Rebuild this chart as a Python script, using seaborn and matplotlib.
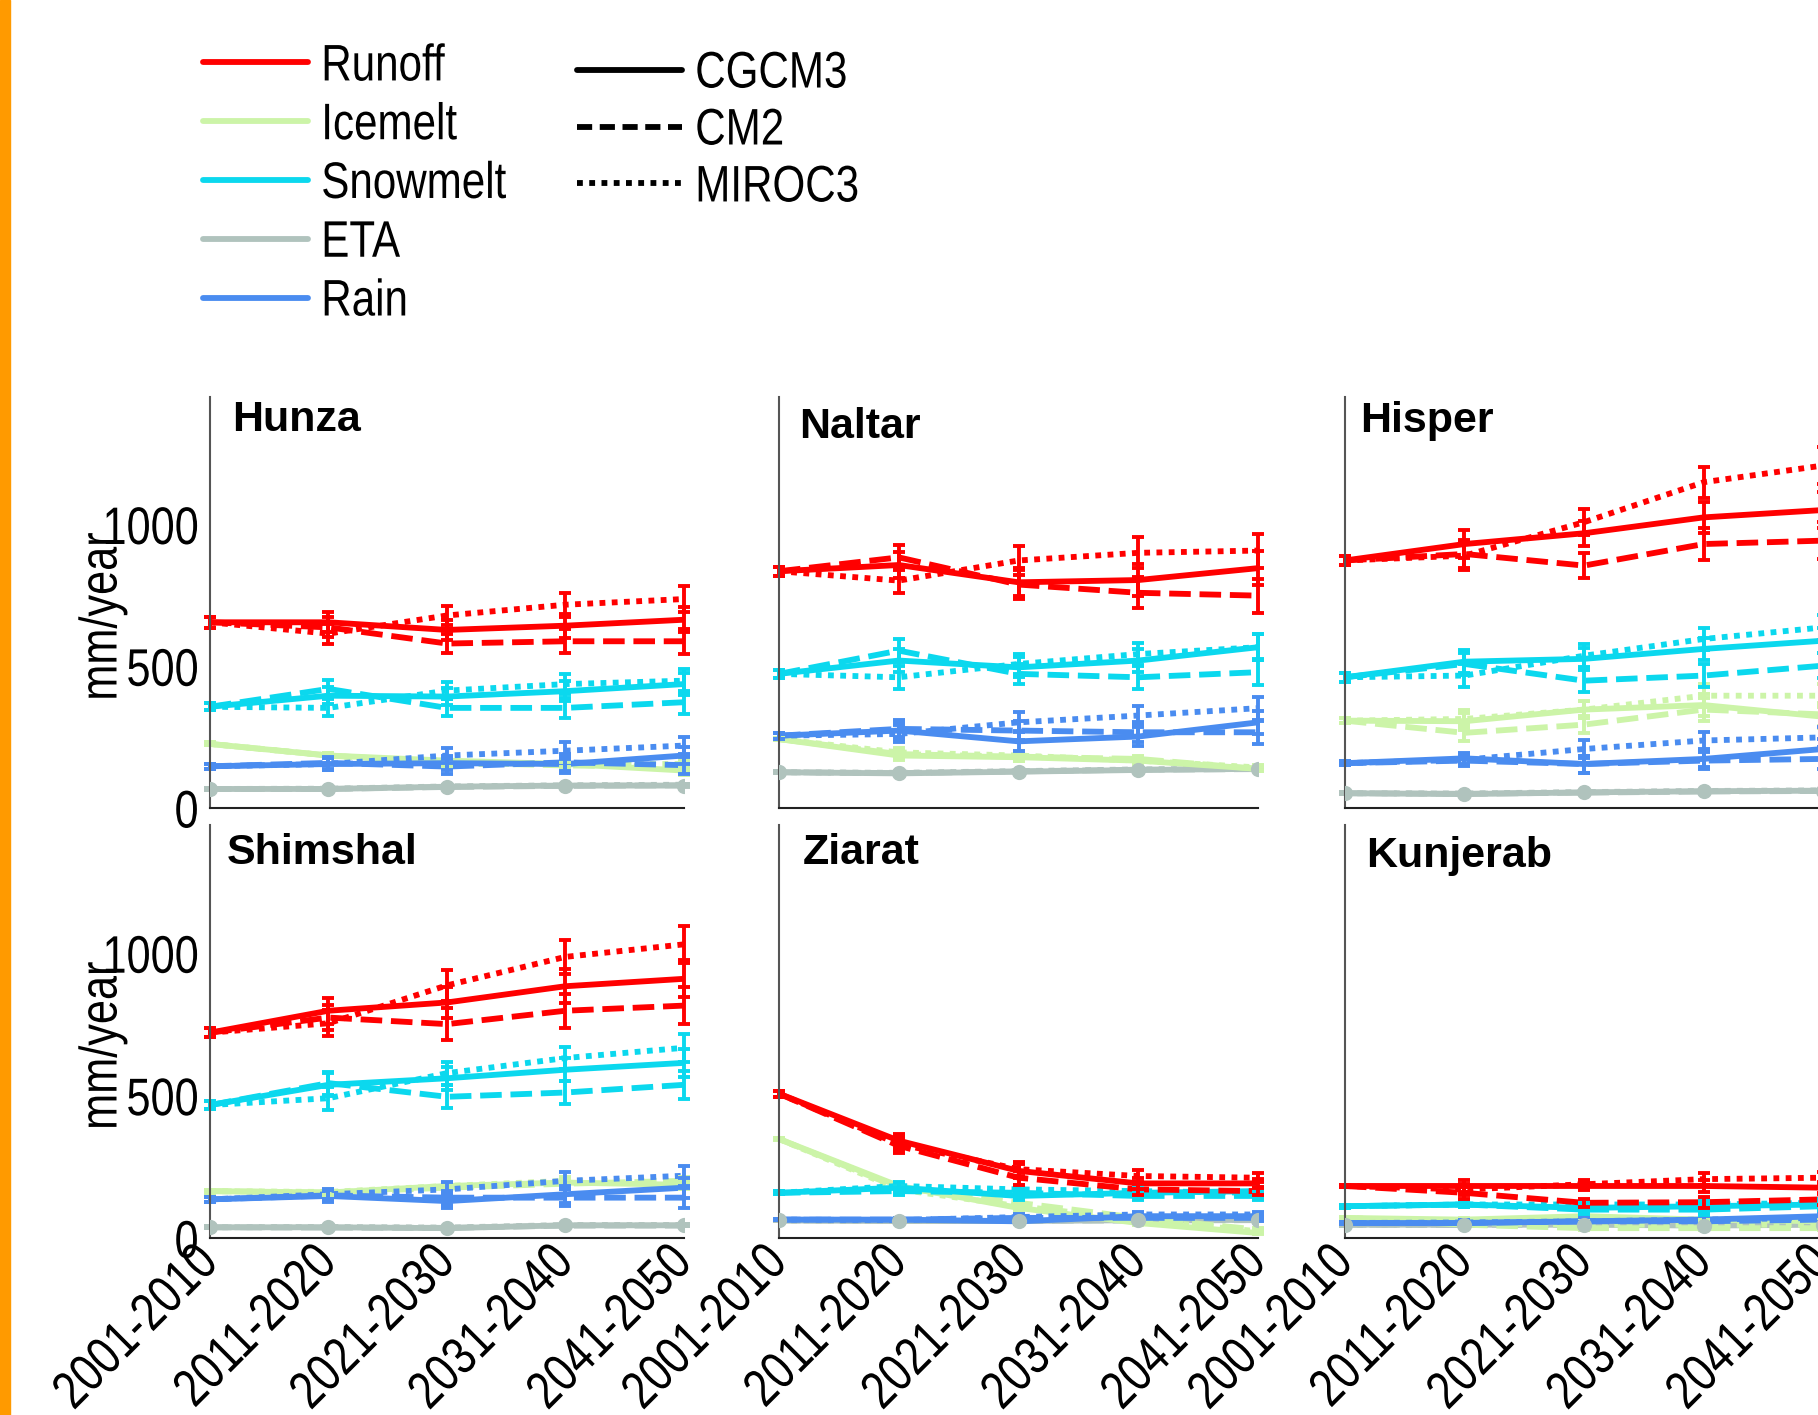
import numpy as np
import pandas as pd
import matplotlib
matplotlib.use('Agg')
import matplotlib.pyplot as plt
from matplotlib.lines import Line2D
from matplotlib.patches import Rectangle
from matplotlib.patheffects import AbstractPathEffect
from matplotlib.transforms import Affine2D
import seaborn as sns

periods = ['2001-2010', '2011-2020', '2021-2030', '2031-2040', '2041-2050']
models = ['CGCM3', 'CM2', 'MIROC3']
components = ['Runoff', 'Icemelt', 'Snowmelt', 'ETA', 'Rain']
comp_colors = {'Runoff': '#ff0000', 'Icemelt': '#ccf4a8', 'Snowmelt': '#0bd8ee',
               'ETA': '#b0c3bd', 'Rain': '#4a8cf0'}
model_dashes = {'CGCM3': '', 'CM2': (3.7, 1.5), 'MIROC3': (1.0, 1.1)}

# values in mm/year, rows = CGCM3, CM2, MIROC3
hunza_runoff = [[655, 655, 628, 643, 664], [655, 637, 580, 588, 588], [655, 615, 679, 717, 737]]
hunza_icemelt = [[226, 185, 167, 155, 132], [226, 185, 160, 150, 145], [226, 185, 155, 155, 155]]
hunza_snowmelt = [[357, 396, 393, 412, 437], [357, 420, 353, 353, 373], [357, 353, 414, 437, 449]]
hunza_eta = [[67, 67, 75, 79, 79], [67, 67, 74, 78, 80], [67, 68, 76, 80, 82]]
hunza_rain = [[147, 155, 158, 155, 185], [147, 159, 146, 161, 151], [147, 155, 185, 202, 220]]
hunza_err = [[20, 35, 35, 42, 45], [5, 10, 12, 12, 15], [12, 30, 30, 35, 40], [3, 4, 4, 4, 4], [8, 20, 25, 30, 30]]

naltar_runoff = [[835, 857, 796, 804, 846], [835, 884, 788, 759, 749], [835, 802, 873, 900, 908]]
naltar_icemelt = [[243, 185, 179, 167, 138], [243, 190, 181, 173, 138], [243, 196, 185, 167, 143]]
naltar_snowmelt = [[473, 520, 496, 520, 567], [473, 555, 473, 461, 479], [473, 461, 508, 543, 567]]
naltar_eta = [[126, 122, 128, 134, 138], [126, 123, 129, 135, 137], [126, 124, 130, 136, 139]]
naltar_rain = [[255, 273, 235, 252, 302], [255, 279, 273, 267, 267], [255, 261, 302, 326, 352]]
naltar_err = [[15, 45, 50, 55, 60], [5, 15, 15, 12, 8], [15, 40, 35, 40, 45], [3, 3, 3, 3, 3], [10, 30, 35, 35, 40]]

hisper_runoff = [[873, 931, 969, 1025, 1051], [873, 896, 855, 931, 943], [873, 890, 1008, 1149, 1208]]
hisper_icemelt = [[308, 306, 347, 363, 322], [308, 265, 294, 347, 330], [308, 314, 347, 396, 396]]
hisper_snowmelt = [[461, 516, 526, 561, 590], [461, 508, 449, 467, 502], [461, 467, 537, 596, 637]]
hisper_eta = [[52, 49, 55, 59, 61], [52, 50, 54, 58, 60], [52, 51, 56, 60, 62]]
hisper_rain = [[158, 175, 155, 173, 208], [158, 167, 155, 167, 173], [158, 170, 208, 238, 249]]
hisper_err = [[15, 50, 45, 55, 65], [10, 30, 30, 40, 40], [15, 40, 40, 40, 45], [3, 3, 3, 3, 3], [8, 20, 30, 30, 35]]

shimshal_runoff = [[721, 798, 827, 884, 910], [721, 774, 751, 798, 816], [721, 754, 887, 987, 1031]]
shimshal_icemelt = [[165, 160, 183, 195, 187], [165, 160, 177, 191, 201], [165, 162, 183, 201, 201]]
shimshal_snowmelt = [[467, 538, 561, 591, 615], [467, 544, 496, 511, 538], [467, 491, 579, 632, 668]]
shimshal_eta = [[38, 38, 35, 45, 45], [38, 37, 36, 44, 44], [38, 39, 37, 46, 46]]
shimshal_rain = [[136, 148, 130, 154, 177], [136, 150, 142, 142, 142], [136, 154, 171, 201, 219]]
shimshal_err = [[15, 45, 55, 60, 65], [5, 10, 10, 12, 15], [15, 40, 40, 40, 50], [3, 3, 3, 3, 3], [8, 20, 25, 30, 35]]

ziarat_runoff = [[507, 342, 236, 192, 192], [507, 324, 212, 171, 165], [507, 330, 242, 218, 212]]
ziarat_icemelt = [[348, 183, 106, 53, 18], [348, 177, 124, 71, 30], [348, 171, 112, 65, 24]]
ziarat_snowmelt = [[159, 177, 148, 159, 165], [159, 165, 159, 148, 148], [159, 183, 171, 165, 159]]
ziarat_eta = [[62, 60, 60, 63, 64], [62, 61, 61, 62, 63], [62, 60, 62, 64, 65]]
ziarat_rain = [[65, 65, 59, 77, 77], [65, 65, 71, 71, 71], [65, 63, 74, 83, 83]]
ziarat_err = [[10, 25, 25, 20, 15], [5, 10, 10, 8, 5], [5, 15, 15, 15, 15], [3, 3, 3, 3, 3], [3, 5, 10, 10, 10]]

kunjerab_runoff = [[183, 183, 183, 183, 177], [183, 159, 124, 126, 136], [183, 171, 189, 207, 212]]
kunjerab_icemelt = [[71, 65, 77, 65, 59], [71, 47, 35, 35, 35], [71, 53, 47, 47, 47]]
kunjerab_snowmelt = [[112, 118, 106, 112, 118], [112, 118, 100, 100, 112], [112, 118, 118, 118, 124]]
kunjerab_eta = [[47, 47, 47, 44, 47], [47, 46, 46, 45, 46], [47, 47, 48, 46, 48]]
kunjerab_rain = [[53, 53, 59, 65, 77], [53, 53, 59, 59, 65], [53, 55, 59, 65, 71]]
kunjerab_err = [[5, 20, 15, 20, 20], [3, 5, 5, 5, 5], [5, 10, 15, 20, 15], [3, 3, 3, 3, 3], [3, 10, 15, 20, 20]]

basins = [
    ('Hunza', [hunza_runoff, hunza_icemelt, hunza_snowmelt, hunza_eta, hunza_rain], hunza_err),
    ('Naltar', [naltar_runoff, naltar_icemelt, naltar_snowmelt, naltar_eta, naltar_rain], naltar_err),
    ('Hisper', [hisper_runoff, hisper_icemelt, hisper_snowmelt, hisper_eta, hisper_rain], hisper_err),
    ('Shimshal', [shimshal_runoff, shimshal_icemelt, shimshal_snowmelt, shimshal_eta, shimshal_rain], shimshal_err),
    ('Ziarat', [ziarat_runoff, ziarat_icemelt, ziarat_snowmelt, ziarat_eta, ziarat_rain], ziarat_err),
    ('Kunjerab', [kunjerab_runoff, kunjerab_icemelt, kunjerab_snowmelt, kunjerab_eta, kunjerab_rain], kunjerab_err),
]


class Narrow(AbstractPathEffect):
    # squeeze the glyphs along the text direction (no Arial Narrow installed)
    def __init__(self, sx=0.82, anchor='left'):
        super().__init__()
        self.sx = sx
        self.anchor = anchor

    def draw_path(self, renderer, gc, tpath, affine, rgbFace=None):
        v = tpath.vertices
        x0, x1 = (v[:, 0].min(), v[:, 0].max()) if len(v) else (0, 0)
        px = {'left': x0, 'right': x1, 'center': 0.5 * (x0 + x1)}[self.anchor]
        t = Affine2D().translate(-px, 0).scale(self.sx, 1).translate(px, 0) + affine
        renderer.draw_path(gc, tpath, t, rgbFace)


sns.set_style('white')
plt.rcParams['font.family'] = ['Liberation Sans', 'DejaVu Sans']
plt.rcParams['text.color'] = 'black'
plt.rcParams['axes.labelcolor'] = 'black'
plt.rcParams['xtick.color'] = 'black'
plt.rcParams['ytick.color'] = 'black'

fig = plt.figure(figsize=(18.18, 14.15), dpi=100)
fig.patches.append(Rectangle((0, 0), 10 / 1818, 1, transform=fig.transFigure,
                             color='#ff9a00', zorder=0))

col_x = [0.1155, 0.4285, 0.7398]
col_w = [0.2607, 0.2635, 0.2630]
row_y = [0.429, 0.125]
row_h = [0.2905, 0.292]
title_pos = [(0.046, 0.917), (0.042, 0.900), (0.031, 0.915),
             (0.036, 0.905), (0.050, 0.905), (0.044, 0.898)]

draw_order = ['ETA', 'Icemelt', 'Rain', 'Snowmelt', 'Runoff']
lw = 4.2
xs = np.arange(len(periods))

for i, (name, series, errs) in enumerate(basins):
    r, c = divmod(i, 3)
    ax = fig.add_axes([col_x[c], row_y[r], col_w[c], row_h[r]])

    rows = []
    for comp, vals in zip(components, series):
        for m, mv in zip(models, vals):
            for k, v in enumerate(mv):
                rows.append({'component': comp, 'model': m, 'x': k, 'value': v})
    df = pd.DataFrame(rows)

    sns.lineplot(data=df, x='x', y='value', hue='component', style='model',
                 hue_order=draw_order, style_order=models, palette=comp_colors,
                 dashes=model_dashes, linewidth=lw, legend=False, errorbar=None,
                 ax=ax)
    for comp in draw_order:
        j = components.index(comp)
        for mi in range(3):
            ax.errorbar(xs, series[j][mi], yerr=errs[j], fmt='none',
                        ecolor=comp_colors[comp], elinewidth=2.8, capsize=4.5,
                        capthick=2.8, clip_on=False)
    eta_df = df[(df.component == 'ETA') & (df.model == 'CGCM3')]
    sns.scatterplot(data=eta_df, x='x', y='value', color=comp_colors['ETA'],
                    s=120, linewidth=0, legend=False, ax=ax, zorder=3)

    ax.set_xlim(0, 4)
    ax.set_ylim(0, 1450)
    ax.set_yticks([0, 500, 1000])
    ax.set_xticks(xs)
    ax.set_xlabel('')
    ax.set_ylabel('')
    for s in ['top', 'right']:
        ax.spines[s].set_visible(False)
    ax.spines['left'].set_color('#555555')
    ax.spines['bottom'].set_color('#222222')
    ax.spines['left'].set_linewidth(1.5)
    ax.spines['bottom'].set_linewidth(1.5)
    ax.tick_params(direction='in', length=5, width=2, colors='black')
    ax.tick_params(axis='y', labelsize=38, pad=8)
    ax.tick_params(axis='x', labelsize=38, pad=12)

    if c == 0:
        ax.set_yticklabels(['0', '500', '1000'])
        for lbl in ax.get_yticklabels():
            lbl.set_path_effects([Narrow(0.82, 'right')])
        ax.set_ylabel('mm/year', fontsize=38)
        ax.yaxis.label.set_path_effects([Narrow(0.82, 'center')])
        ax.yaxis.set_label_coords(-0.174, 0.466)
    else:
        ax.set_yticklabels([])
    if r == 1:
        ax.set_xticklabels(periods, rotation=45, ha='right', va='center',
                           rotation_mode='anchor')
        for lbl in ax.get_xticklabels():
            lbl.set_path_effects([Narrow(0.82, 'right')])
    else:
        ax.set_xticklabels([])

    tx, ty = title_pos[i]
    ax.text(tx, ty, name, transform=ax.transAxes, fontsize=31, fontweight='bold',
            va='baseline', ha='left', color='black')

comp_handles = [Line2D([], [], color=comp_colors[cmp], lw=lw) for cmp in components]
model_handles = [Line2D([], [], color='black', lw=lw, linestyle='-'),
                 Line2D([], [], color='black', lw=lw, dashes=(2.6, 1.3)),
                 Line2D([], [], color='black', lw=lw, dashes=model_dashes['MIROC3'])]

leg1 = fig.legend(comp_handles, components, loc='upper left', bbox_to_anchor=(0.1117, 0.970),
                  frameon=False, fontsize=37, handlelength=2.05, handletextpad=0.25,
                  labelspacing=0.19, borderpad=0, borderaxespad=0)
leg2 = fig.legend(model_handles, models, loc='upper left', bbox_to_anchor=(0.3174, 0.965),
                  frameon=False, fontsize=37, handlelength=2.05, handletextpad=0.25,
                  labelspacing=0.155, borderpad=0, borderaxespad=0)
for leg in (leg1, leg2):
    for t in leg.get_texts():
        t.set_path_effects([Narrow(0.82, 'left')])
        t.set_color('black')

fig.savefig('out.png', dpi=100)
